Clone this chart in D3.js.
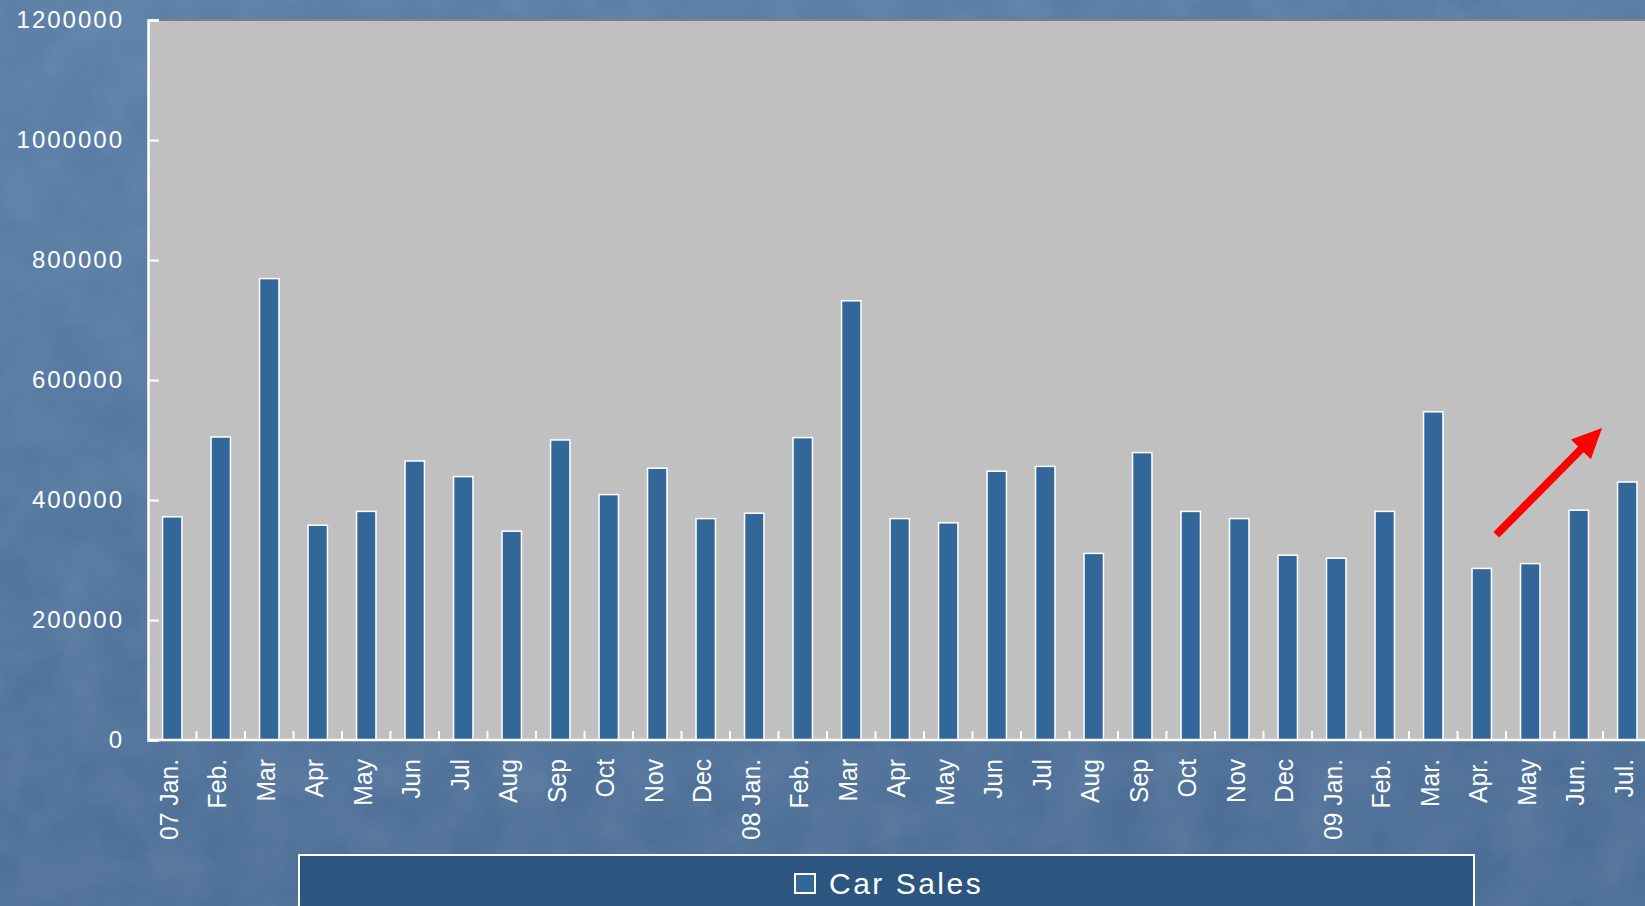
<!DOCTYPE html>
<html>
<head>
<meta charset="utf-8">
<script src="https://cdn.jsdelivr.net/npm/d3@7"></script>
<style>
  html, body { margin: 0; padding: 0; background: #52759c; overflow: hidden; }
  svg { display: block; }
  text { font-family: "Liberation Sans", Arial, sans-serif; fill: #fff; }
</style>
</head>
<body>
<div id="chart"></div>
<script>
// month labels, one per bar
const months = ['07 Jan.', 'Feb.', 'Mar', 'Apr', 'May', 'Jun', 'Jul', 'Aug', 'Sep', 'Oct', 'Nov', 'Dec',
  '08 Jan.', 'Feb.', 'Mar', 'Apr', 'May', 'Jun', 'Jul', 'Aug', 'Sep', 'Oct', 'Nov', 'Dec',
  '09 Jan.', 'Feb.', 'Mar.', 'Apr.', 'May', 'Jun.', 'Jul.'];

const sales = [372000, 505000, 769000, 358000, 381000, 465000, 439000, 348000, 500000, 409000, 453000, 369000,
  378000, 504000, 732000, 369000, 362000, 448000, 456000, 311000, 479000, 381000, 369000, 308000,
  303000, 381000, 547000, 286000, 294000, 383000, 430000];

const yTicks = [0, 200000, 400000, 600000, 800000, 1000000, 1200000];

const seriesName = 'Car Sales';

// red trend arrow, position in bar slots and value units
const arrowPos = [27.8, 29.98];
const arrowVal = [342000, 520000];

const W = 1645;
const H = 906;
const margin = {top: 20, left: 148, bottom: 740};
const slot = 48.5;

const svg = d3.select('#chart').append('svg').attr('width', W).attr('height', H);

const defs = svg.append('defs');
const grad = defs.append('linearGradient').attr('id', 'bg').attr('x1', 0).attr('y1', 0).attr('x2', 0.3).attr('y2', 1);
grad.append('stop').attr('offset', '0%').attr('stop-color', '#5c80a8');
grad.append('stop').attr('offset', '100%').attr('stop-color', '#4d6f97');

const noise = defs.append('filter').attr('id', 'noise').attr('x', 0).attr('y', 0).attr('width', '100%').attr('height', '100%');
noise.append('feTurbulence').attr('type', 'fractalNoise').attr('baseFrequency', '0.02 0.02').attr('numOctaves', 3).attr('seed', 4);
noise.append('feColorMatrix').attr('type', 'matrix')
  .attr('values', '0 0 0 0 1  0 0 0 0 1  0 0 0 0 1  0 0 0 0.35 -0.1');

svg.append('rect').attr('width', W).attr('height', H).attr('fill', 'url(#bg)');
svg.append('rect').attr('width', W).attr('height', H).attr('filter', 'url(#noise)').attr('opacity', 0.35);

const x = d3.scaleBand()
  .domain(d3.range(months.length))
  .range([margin.left, margin.left + slot * months.length])
  .paddingInner(0.6)
  .paddingOuter(0.3);

const y = d3.scaleLinear().domain([0, 1200000]).range([margin.bottom, margin.top]);

// plot area
svg.append('rect')
  .attr('x', margin.left).attr('y', margin.top)
  .attr('width', W - margin.left).attr('height', margin.bottom - margin.top)
  .attr('fill', '#c0c0c0');
svg.append('line')
  .attr('x1', margin.left).attr('x2', W)
  .attr('y1', margin.top).attr('y2', margin.top)
  .attr('stroke', '#808080').attr('stroke-width', 2);

// bars
svg.append('g')
  .selectAll('rect')
  .data(sales)
  .join('rect')
  .attr('x', (d, i) => x(i))
  .attr('y', d => y(d))
  .attr('width', x.bandwidth())
  .attr('height', d => y(0) - y(d))
  .attr('fill', '#336699')
  .attr('stroke', '#fff')
  .attr('stroke-width', 1.5);

// y axis
const yAxis = d3.axisLeft(y).tickValues(yTicks).tickSize(-11).tickPadding(24).tickFormat(d3.format('d'));
const gy = svg.append('g').attr('transform', `translate(${margin.left},0)`).call(yAxis);
gy.select('.domain').attr('stroke', '#fff').attr('stroke-width', 2.5);
gy.selectAll('.tick line').attr('stroke', '#fff').attr('stroke-width', 2);
gy.selectAll('.tick text')
  .attr('fill', '#fff')
  .style('font-size', '24px')
  .style('letter-spacing', '2px')
  .style('font-family', '"Liberation Sans", Arial, sans-serif');

// x axis: ticks sit between the bars
const step = x.step();
const boundaries = d3.range(1, months.length + 1).map(k => margin.left + k * step);
const gx = svg.append('g');
gx.append('line')
  .attr('x1', margin.left).attr('x2', W)
  .attr('y1', y(0)).attr('y2', y(0))
  .attr('stroke', '#fff').attr('stroke-width', 2.5);
gx.selectAll('line.tk')
  .data(boundaries)
  .join('line')
  .attr('class', 'tk')
  .attr('x1', d => d).attr('x2', d => d)
  .attr('y1', y(0)).attr('y2', y(0) - 9)
  .attr('stroke', '#fff').attr('stroke-width', 2);

gx.selectAll('text')
  .data(months)
  .join('text')
  .attr('transform', (d, i) => `translate(${x(i) + x.bandwidth() / 2 - 4},759) rotate(-90) scale(0.95,1)`)
  .attr('dy', '0.36em')
  .attr('text-anchor', 'end')
  .style('font-size', '26px')
  .text(d => d);

// red arrow
const ax = p => margin.left + p * step;
const x0 = ax(arrowPos[0]);
const y0 = y(arrowVal[0]);
const x1 = ax(arrowPos[1]);
const y1 = y(arrowVal[1]);
const ang = Math.atan2(y1 - y0, x1 - x0);
const headLen = 30;
const headW = 14;
const bx = x1 - headLen * Math.cos(ang);
const by = y1 - headLen * Math.sin(ang);
svg.append('line')
  .attr('x1', x0).attr('y1', y0)
  .attr('x2', bx + 4 * Math.cos(ang)).attr('y2', by + 4 * Math.sin(ang))
  .attr('stroke', '#ff0000').attr('stroke-width', 8);
const nx = -Math.sin(ang);
const ny = Math.cos(ang);
svg.append('path')
  .attr('d', `M${x1},${y1}L${bx + headW * nx},${by + headW * ny}L${bx - headW * nx},${by - headW * ny}Z`)
  .attr('fill', '#ff0000');

// legend
const legend = svg.append('g');
legend.append('rect')
  .attr('x', 299).attr('y', 855)
  .attr('width', 1175).attr('height', 70)
  .attr('fill', '#2c5580')
  .attr('stroke', '#fff').attr('stroke-width', 2);
legend.append('rect')
  .attr('x', 795).attr('y', 874)
  .attr('width', 20).attr('height', 19)
  .attr('fill', '#336699')
  .attr('stroke', '#fff').attr('stroke-width', 2);
legend.append('text')
  .attr('x', 829).attr('y', 894)
  .style('font-size', '30px')
  .style('letter-spacing', '2.5px')
  .text(seriesName);
</script>
</body>
</html>
